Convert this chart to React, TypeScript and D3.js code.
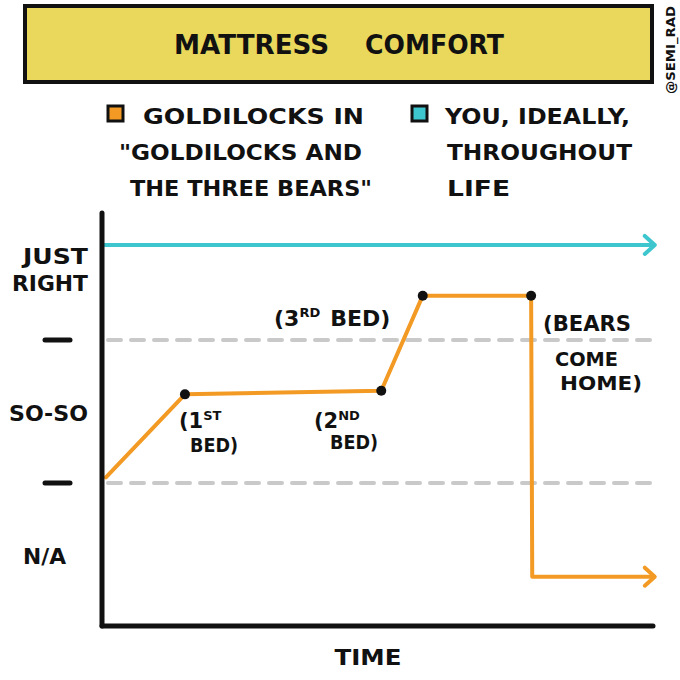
import React from 'react';
import * as d3 from 'd3';

// comfort levels on the y axis (0 = N/A ... 4 = just right)
const levelLabels = ['N/A', '—', 'SO-SO', '—', 'JUST RIGHT'];
const levelValues = [0, 1, 2, 3, 4];
const gridValues = [1, 3];

// Goldilocks in "Goldilocks and the Three Bears"
const goldTime = [0.7, 15, 50.5, 58, 77.6, 77.8, 99.6];
const goldComfort = [1.08, 2.24, 2.29, 3.62, 3.62, -0.31, -0.31];
const goldDots = [1, 2, 3, 4]; // indexes of the points with a dot

// you, ideally, throughout life
const youTime = [0.5, 99.6];
const youComfort = [4.33, 4.33];

const ORANGE = '#F29A24';
const TEAL = '#3EC6CF';
const INK = '#111111';
const FONT = '"DejaVu Sans", sans-serif';

const width = 680;
const height = 680;

const x = d3.scaleLinear().domain([0, 100]).range([102, 655]);
const y = d3.scaleLinear().domain([1, 3]).range([483, 340]);

const line = d3.line<[number, number]>()
  .x(d => x(d[0]))
  .y(d => y(d[1]));

const goldPts: [number, number][] = goldTime.map((t, i) => [t, goldComfort[i]]);
const youPts: [number, number][] = youTime.map((t, i) => [t, youComfort[i]]);

// open chevron arrow head at the end of a horizontal line
const Chevron = ({ px, py, color }: { px: number; py: number; color: string }) => (
  <path d={`M${px - 10},${py - 9} L${px},${py} L${px - 10},${py + 9}`}
    fill="none" stroke={color} strokeWidth={4} strokeLinecap="round" strokeLinejoin="round" />
);

const T = (props: any) => (
  <text fontFamily={FONT} fontWeight={700} fill={INK} {...props} />
);

export default function App() {
  const goldEnd = goldPts[goldPts.length - 1];
  const youEnd = youPts[youPts.length - 1];
  const ylabelX = 88;

  return (
    <svg width={width} height={height} style={{ position: 'absolute', left: 0, top: 0, background: '#fff' }}>
      {/* title box */}
      <rect x={25} y={6} width={627} height={76} fill="#E9D85B" stroke={INK} strokeWidth={4} />
      <T x={174} y={54} fontSize={27} textLength={155} lengthAdjust="spacingAndGlyphs">MATTRESS</T>
      <T x={365} y={54} fontSize={27} textLength={139} lengthAdjust="spacingAndGlyphs">COMFORT</T>
      <T transform="translate(675,50) rotate(-90)" textAnchor="middle" fontSize={13} textLength={88} lengthAdjust="spacingAndGlyphs">@SEMI_RAD</T>

      {/* legend */}
      <rect x={108} y={106} width={15} height={15} fill={ORANGE} stroke={INK} strokeWidth={3} />
      <T x={143} y={124} fontSize={22} textLength={221} lengthAdjust="spacingAndGlyphs">GOLDILOCKS IN</T>
      <T x={119} y={160} fontSize={22} textLength={243} lengthAdjust="spacingAndGlyphs">"GOLDILOCKS AND</T>
      <T x={130} y={196} fontSize={22} textLength={242} lengthAdjust="spacingAndGlyphs">THE THREE BEARS"</T>

      <rect x={412} y={106} width={15} height={15} fill={TEAL} stroke={INK} strokeWidth={3} />
      <T x={445} y={124} fontSize={22} textLength={185} lengthAdjust="spacingAndGlyphs">YOU, IDEALLY,</T>
      <T x={447} y={160} fontSize={22} textLength={185} lengthAdjust="spacingAndGlyphs">THROUGHOUT</T>
      <T x={447} y={196} fontSize={22} textLength={63} lengthAdjust="spacingAndGlyphs">LIFE</T>

      {/* dashed grid lines */}
      {gridValues.map(v => (
        <line key={v} x1={108} x2={655} y1={y(v)} y2={y(v)}
          stroke="#C9C9C9" strokeWidth={4} strokeDasharray="13 10" strokeLinecap="round" />
      ))}

      {/* y axis labels */}
      {levelValues.map((v, i) => {
        const lab = levelLabels[i];
        if (lab === '—') {
          return <line key={i} x1={45} x2={70} y1={y(v)} y2={y(v)} stroke={INK} strokeWidth={5} strokeLinecap="round" />;
        }
        if (lab === 'JUST RIGHT') {
          return (
            <g key={i}>
              <T x={ylabelX} y={y(v) - 5} textAnchor="end" fontSize={21} textLength={65} lengthAdjust="spacingAndGlyphs">JUST</T>
              <T x={ylabelX} y={y(v) + 22} textAnchor="end" fontSize={21} textLength={76} lengthAdjust="spacingAndGlyphs">RIGHT</T>
            </g>
          );
        }
        const w = lab === 'SO-SO' ? 79 : 43;
        return <T key={i} x={ylabelX - (lab === 'N/A' ? 22 : 0)} y={y(v) + 9} textAnchor="end" fontSize={21}
          textLength={w} lengthAdjust="spacingAndGlyphs">{lab}</T>;
      })}

      {/* series */}
      <path d={line(youPts) || ''} fill="none" stroke={TEAL} strokeWidth={4} strokeLinecap="round" />
      <Chevron px={x(youEnd[0]) + 2} py={y(youEnd[1])} color={TEAL} />

      <path d={line(goldPts) || ''} fill="none" stroke={ORANGE} strokeWidth={4} strokeLinejoin="round" strokeLinecap="round" />
      <Chevron px={x(goldEnd[0]) + 2} py={y(goldEnd[1])} color={ORANGE} />
      {goldDots.map(i => (
        <circle key={i} cx={x(goldPts[i][0])} cy={y(goldPts[i][1])} r={5} fill={INK} />
      ))}

      {/* annotations */}
      <T x={179} y={428} fontSize={21}>(1<tspan fontSize={13} dy={-8}>ST</tspan></T>
      <T x={190} y={452} fontSize={20} textLength={48} lengthAdjust="spacingAndGlyphs">BED)</T>
      <T x={314} y={428} fontSize={21}>(2<tspan fontSize={13} dy={-8}>ND</tspan></T>
      <T x={330} y={449} fontSize={20} textLength={48} lengthAdjust="spacingAndGlyphs">BED)</T>
      <T x={274} y={326} fontSize={22}>(3<tspan fontSize={13} dy={-9}>RD</tspan><tspan dy={9} dx={10}>BED)</tspan></T>
      <T x={543} y={331} fontSize={21} textLength={88} lengthAdjust="spacingAndGlyphs">(BEARS</T>
      <T x={555} y={366} fontSize={19} textLength={63} lengthAdjust="spacingAndGlyphs">COME</T>
      <T x={560} y={390} fontSize={20} textLength={82} lengthAdjust="spacingAndGlyphs">HOME)</T>

      {/* axes */}
      <line x1={102} x2={102} y1={213} y2={626} stroke={INK} strokeWidth={5} strokeLinecap="round" />
      <line x1={102} x2={653} y1={626} y2={626} stroke={INK} strokeWidth={5} strokeLinecap="round" />
      <T x={368} y={665} textAnchor="middle" fontSize={21} textLength={67} lengthAdjust="spacingAndGlyphs">TIME</T>
    </svg>
  );
}
